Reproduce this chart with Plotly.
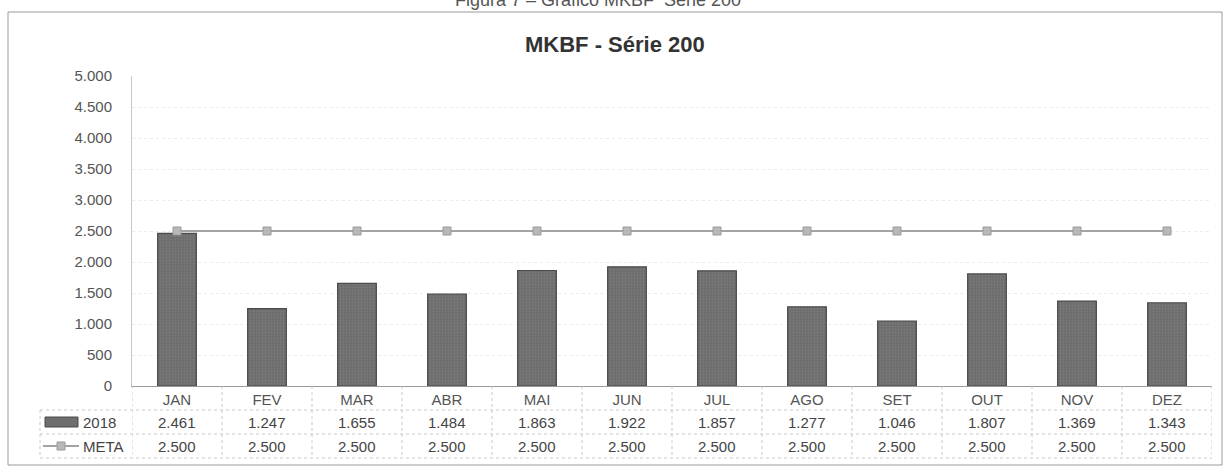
import plotly.graph_objects as go

# Dados do gráfico
meses = ["JAN", "FEV", "MAR", "ABR", "MAI", "JUN", "JUL", "AGO", "SET", "OUT", "NOV", "DEZ"]
valores_2018 = [2461, 1247, 1655, 1484, 1863, 1922, 1857, 1277, 1046, 1807, 1369, 1343]
meta = [2500] * 12
y_ticks = [0, 500, 1000, 1500, 2000, 2500, 3000, 3500, 4000, 4500, 5000]

W, H = 1230, 472
L, R, T, B = 132, 1212, 76, 386  # area do grafico em pixels
FONTE = "Liberation Sans Narrow, Arial Narrow, Liberation Sans, Arial"


def px(x):
    return (x - L) / (R - L)


def py(y):
    return (B - y) / (B - T)


def fmt(v):
    return f"{v:,}".replace(",", ".")


def texto(x, y, t, size=15, color="#444", xref="paper", xanchor="center", **kw):
    return dict(x=x, y=y, xref=xref, yref="paper", text=t, showarrow=False,
                xanchor=xanchor, yanchor="middle",
                font=dict(size=size, color=color, family=FONTE, **kw))


fig = go.Figure()
fig.add_trace(go.Bar(x=meses, y=valores_2018, name="2018", width=0.43,
                     marker=dict(color="#727272", line=dict(color="#4a4a4a", width=1.2),
                                 pattern=dict(shape=".", fgcolor="#8a8a8a", bgcolor="#6c6c6c",
                                              size=3, solidity=0.3))))
fig.add_trace(go.Scatter(x=meses, y=meta, name="META", mode="lines+markers",
                         line=dict(color="#a4a4a4", width=2),
                         marker=dict(symbol="square", size=8, color="#b8b8b8",
                                     line=dict(color="#9a9a9a", width=1))))

shapes = []
linha = dict(color="#c8c8c8", width=1, dash="dot")
# moldura externa
shapes.append(dict(type="rect", xref="paper", yref="paper", x0=px(8), x1=px(1222),
                   y0=py(465), y1=py(12), line=dict(color="#9a9a9a", width=1)))
# linhas horizontais da tabela
for yy in [410, 434, 458]:
    shapes.append(dict(type="line", xref="paper", yref="paper", x0=px(40), x1=1,
                       y0=py(yy), y1=py(yy), line=linha))
shapes.append(dict(type="line", xref="paper", yref="paper", x0=px(40), x1=px(40),
                   y0=py(410), y1=py(458), line=linha))
# linhas verticais entre meses
for k in range(13):
    shapes.append(dict(type="line", xref="x", yref="paper", x0=k - 0.5, x1=k - 0.5,
                       y0=py(386), y1=py(458), line=linha))
# icones da legenda
shapes.append(dict(type="rect", xref="paper", yref="paper", x0=px(45), x1=px(78),
                   y0=py(427), y1=py(417), fillcolor="#6e6e6e",
                   line=dict(color="#4a4a4a", width=1)))
shapes.append(dict(type="line", xref="paper", yref="paper", x0=px(43), x1=px(79),
                   y0=py(446), y1=py(446), line=dict(color="#a4a4a4", width=2)))
shapes.append(dict(type="rect", xref="paper", yref="paper", x0=px(57), x1=px(65),
                   y0=py(450), y1=py(442), fillcolor="#b8b8b8",
                   line=dict(color="#9a9a9a", width=1)))

anns = []
for i, m in enumerate(meses):
    anns.append(texto(m, py(422), fmt(valores_2018[i]), xref="x"))
    anns.append(texto(m, py(446), fmt(meta[i]), xref="x"))
anns.append(texto(px(81), py(422), "2018", xanchor="left"))
anns.append(texto(px(81), py(446), "META", xanchor="left"))
anns.append(texto(px(615), py(45), "MKBF - Série 200", size=22, color="#333", weight="bold"))
anns.append(texto(px(598), py(0), "Figura 7 – Gráfico MKBF  Série 200", size=18, color="#555"))

fig.update_layout(
    width=W, height=H,
    margin=dict(l=L, r=W - R, t=T, b=H - B, pad=0),
    paper_bgcolor="white", plot_bgcolor="white",
    separators=",.",
    showlegend=False,
    font=dict(family=FONTE, color="#555"),
    xaxis=dict(type="category", range=[-0.5, len(meses) - 0.5], showgrid=False,
               showline=True, linecolor="#9a9a9a",
               ticks="", tickfont=dict(size=15, color="#555"), ticklabelstandoff=0),
    yaxis=dict(range=[0, 5000], tickvals=y_ticks, tickformat=",d", showgrid=True,
               gridcolor="#ececec", griddash="dot", zeroline=False, showline=True,
               linecolor="#c8c8c8", ticks="", tickfont=dict(size=15, color="#555"),
               ticklabelstandoff=16),
    shapes=shapes, annotations=anns,
)

# sem margem do body para o grafico ficar em (0, 0)
fig.write_html("out.html", config={"displayModeBar": False},
               post_script="document.body.style.margin='0';")
